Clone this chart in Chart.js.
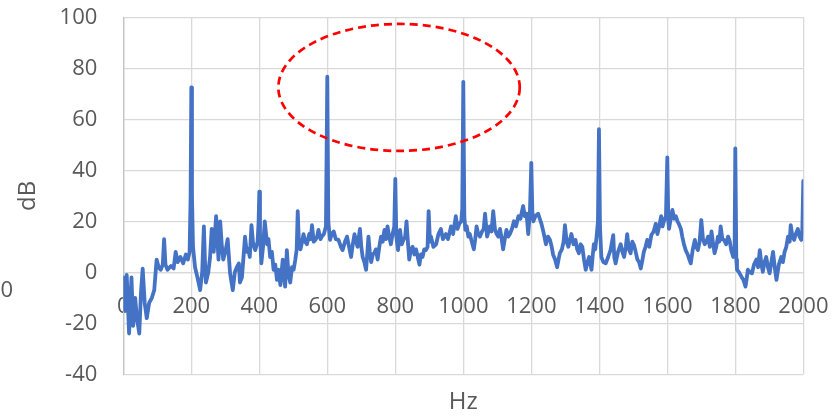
<!DOCTYPE html>
<html>
<head>
<meta charset="utf-8">
<script src="https://cdn.jsdelivr.net/npm/chart.js@4.4.1/dist/chart.umd.min.js"></script>
<style>
  html, body { margin:0; padding:0; background:#fff; }
  #chart { display:block; }
</style>
</head>
<body>
<canvas id="chart" width="833" height="420"></canvas>
<script>
// frequency (Hz) and level (dB)
const freqHz = [
  0,5,10,17,24,29,35,40,47,52,57,63,69,76,84,91,98,104,110,116,
  120,124,130,140,148,154,160,168,176,184,190,195,198,200,202,205,211,218,226,232,
  237,240,243,250,255,260,266,273,280,285,290,294,300,307,314,322,328,334,340,343,
  349,358,363,368,372,377,382,388,395,398,400,402,406,411,416,423,427,432,437,442,
  447,452,457,462,469,473,476,481,486,491,496,501,506,510,513,517,521,526,530,535,
  540,547,551,555,560,565,570,574,580,584,590,596,600,603,608,613,619,625,633,640,
  645,652,658,664,670,675,680,685,689,693,696,700,704,709,714,718,721,725,729,734,
  738,743,748,753,758,763,768,773,777,782,787,792,797,800,803,808,814,819,824,829,
  833,837,841,846,851,856,861,866,871,875,880,885,890,895,898,902,905,912,920,927,
  934,940,949,955,964,970,978,983,988,994,997,1000,1003,1006,1010,1015,1019,1025,1031,1035,
  1039,1044,1049,1055,1060,1064,1070,1074,1078,1083,1088,1093,1098,1103,1108,1113,1117,1122,1127,1132,
  1137,1143,1149,1155,1162,1168,1176,1181,1186,1191,1196,1200,1203,1206,1212,1220,1225,1230,1237,1243,
  1249,1255,1260,1264,1270,1276,1280,1284,1290,1295,1299,1304,1309,1314,1318,1324,1330,1335,1340,1345,
  1350,1355,1360,1365,1370,1374,1377,1381,1384,1388,1392,1396,1399,1402,1406,1412,1419,1426,1433,1441,
  1444,1448,1455,1463,1468,1473,1478,1482,1487,1492,1497,1502,1507,1512,1517,1522,1527,1531,1536,1541,
  1547,1553,1560,1566,1571,1576,1582,1586,1590,1596,1600,1603,1605,1610,1615,1620,1625,1630,1634,1640,
  1644,1649,1654,1660,1665,1669,1675,1681,1685,1690,1695,1700,1705,1710,1715,1720,1725,1730,1735,1739,
  1744,1749,1753,1757,1762,1767,1773,1779,1784,1788,1794,1798,1800,1803,1805,1811,1818,1824,1830,1834,
  1837,1843,1849,1855,1862,1867,1872,1877,1881,1886,1891,1896,1901,1906,1911,1916,1921,1928,1935,1940,
  1945,1950,1955,1960,1963,1968,1973,1978,1984,1989,1994,1997,2000
];
const levelDb = [
  -2,-15,-1,-24,-2,-21,-10,-18,-24,-8,1.4,-12,-18,-12,-10,-7,5,2,1,3,
  13,3,1,2.5,1.5,8,4,6,3.5,7,5,8,30,72.5,30,10,2,-2,-7,0,
  18,5,-4,0,5.7,17,8,22,5,20,10,5,8,13,-0.4,-7,0,2,3.5,-4,
  -2,14,8,9,6,18.5,11,8.7,12,20,31.6,15,3.5,10,20,11,13,6,8,1,
  3,-3,1,-5,5,-2,-5.6,8.7,-1,-4,2,1,5,9,24,10,9,12,15,12,
  11,15,13,18.5,12,12.7,14,16.6,13,14,15,18,76.7,20,12.7,15,16,13,12.7,10,
  8.7,12,14,10,6,11,15,12,10,14,17,10,6,4,1,8,14,8,4,7,
  7.5,9,5,10,14,12,16.6,13,18,14,11,15,18,36.6,14,8.7,16.6,11,12.7,14,
  20,12,5,9,10,7,9,6,3,7,6,9,8.7,10,24,12,14,10,11,15,
  17,13,15,13,18,15,22,17,19,20,25,74.7,22,16.6,18,14,15,12,9,13,
  18,15,14,16,17,23,14,16,18,16,24,17,15,14,17,13,9,13,16.6,14,
  15,17,20,18,22,21,26,22,23,15,24,42.9,24,20,22,23,21,19,15,11,
  14,12.7,10,7,5,2,5,7.5,9,12,18.5,12,10,13,15,11,12.7,9,7.5,11,
  10,5,1,4,6,3,1,7,11,9,14,20,56.1,18,6,4,3.5,6,8.7,14.6,
  6,3.5,8,11,8,6,10,15,9,7.5,12,10.7,8,5,4,1.5,5,8,10,12.7,
  10,14.6,16,19,15,18,22,18,20,22,45.1,20,17,21,24.5,21,22,20,19,17,
  14,11,8.7,7,5,3.5,9,12.7,10,8.7,12,20.5,13,11,12,14,10,16,11,7.5,
  10,14,12,18,13,12.7,11,14,12,8.7,6,10,48.6,5,1,0,-1.7,-3,-5.6,-2,
  1,0,-0.4,3,5,2,8.7,3,0.2,4,6,2,-0.4,4,8,2,-3,3,6,4,
  8,10,14,12,18.5,14,12.7,15,17,14,12.7,16,35.8
];
const xTicks = [0,200,400,600,800,1000,1200,1400,1600,1800,2000];
const yTicks = [-40,-20,0,20,40,60,80,100];

// red dashed ellipse around the 600-1000 Hz peaks (centre and radii in Hz / dB)
const ringCenter = [811, 72.5];
const ringRadius = [355, 24.9];

const GRID = "#d9d9d9";
const TXT = "#595959";
const FONT = "'Open Sans', 'Noto Sans', sans-serif";

const ringPlugin = {
  id: "ring",
  afterDatasetsDraw(chart){
    const {ctx, scales:{x, y}} = chart;
    const cx = x.getPixelForValue(ringCenter[0]);
    const cy = y.getPixelForValue(ringCenter[1]);
    const rx = Math.abs(x.getPixelForValue(ringCenter[0] + ringRadius[0]) - cx);
    const ry = Math.abs(y.getPixelForValue(ringCenter[1] + ringRadius[1]) - cy);
    ctx.save();
    ctx.beginPath();
    ctx.ellipse(cx, cy, rx, ry, 0, 0, Math.PI*2);
    ctx.setLineDash([8,5]);
    ctx.lineWidth = 2.7;
    ctx.strokeStyle = "#ff0000";
    ctx.stroke();
    ctx.restore();
  },
  afterDraw(chart){
    // clipped leftover label at the very left edge
    const ctx = chart.ctx;
    ctx.save();
    ctx.font = "22px " + FONT;
    ctx.fillStyle = TXT;
    ctx.textAlign = "right";
    ctx.textBaseline = "middle";
    ctx.fillText("00", 13, 291);
    ctx.restore();
  }
};

const noPad = s => { s.paddingLeft = 0; s.paddingRight = 0; s.paddingTop = 0; s.paddingBottom = 0; };

const points = freqHz.map((f, i) => ({x:f, y:levelDb[i]}));

new Chart(document.getElementById("chart").getContext("2d"), {
  type: "line",
  data: {
    datasets: [{
      data: points,
      xAxisID: "x",
      yAxisID: "y",
      borderColor: "#4472c4",
      borderWidth: 3.8,
      pointRadius: 0,
      tension: 0,
      borderJoinStyle: "round",
      borderCapStyle: "round"
    }]
  },
  options: {
    responsive: false,
    animation: false,
    layout: { padding: { left:0, top:17.3, right:29.7, bottom:0 } },
    plugins: { legend:{display:false}, tooltip:{enabled:false} },
    scales: {
      x: {
        type: "linear",
        position: { y: 0 },
        min: 0, max: 2000,
        afterBuildTicks: s => { s.ticks = xTicks.map(v => ({value:v})); },
        ticks: { padding: 21, color: TXT, font: {family: FONT, size: 22}, maxRotation: 0, callback: v => String(v) },
        grid: { color: GRID, lineWidth: 1.3, drawTicks: false },
        border: { color: GRID, width: 1.3 },
        afterFit: s => { noPad(s); s.height = 0; }
      },
      xTitle: {
        type: "linear",
        position: "bottom",
        min: 0, max: 2000,
        ticks: { display: false },
        grid: { display: false, drawTicks: false },
        border: { display: false },
        title: { display: true, text: "Hz", color: TXT, font: {family: FONT, size: 24}, padding: {top:0, bottom:3} },
        afterFit: s => { noPad(s); s.height = 45.7; }
      },
      y: {
        min: -40, max: 100,
        afterBuildTicks: s => { s.ticks = yTicks.map(v => ({value:v})); },
        ticks: { padding: 26, color: TXT, font: {family: FONT, size: 22} },
        grid: { color: GRID, lineWidth: 1.3, drawTicks: false },
        border: { color: "#c4c4c4", width: 1.3 },
        title: { display: true, text: "dB", color: TXT, font: {family: FONT, size: 24}, padding: {top:14, bottom:0} },
        afterFit: s => { noPad(s); s.width = 123.3; }
      }
    }
  },
  plugins: [ringPlugin]
});
</script>
</body>
</html>
